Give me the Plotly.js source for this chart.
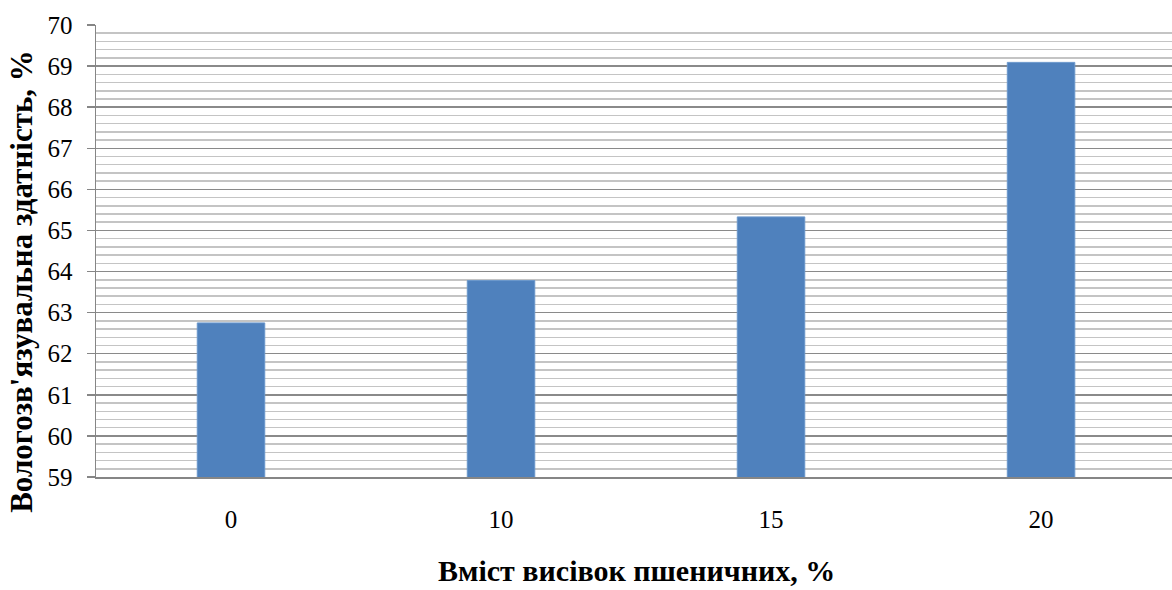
<!DOCTYPE html>
<html>
<head>
<meta charset="utf-8">
<script src="https://cdn.plot.ly/plotly-3.0.1.min.js"></script>
<style>
  html, body { margin: 0; padding: 0; background: #ffffff; }
  #chart { width: 1172px; height: 590px; }
</style>
</head>
<body>
<div id="chart"></div>
<script>
// Вміст висівок пшеничних (%) та вологозв'язувальна здатність (%)
const branContent = ['0', '10', '15', '20'];
const waterBinding = [62.75, 63.78, 65.33, 69.09];

const yTitle = "Вологозв'язувальна здатність, %";
const xTitle = 'Вміст висівок пшеничних, %';

const serif = 'Liberation Serif';

const trace = {
  type: 'bar',
  x: branContent,
  y: waterBinding,
  width: 0.25,
  marker: { color: '#4f81bd', line: { color: '#6a97cc', width: 1 } },
  hoverinfo: 'x+y'
};

const layout = {
  width: 1172,
  height: 590,
  margin: { l: 96, r: 0, t: 25, b: 113 },
  paper_bgcolor: '#ffffff',
  plot_bgcolor: '#ffffff',
  showlegend: false,
  font: { family: serif, color: '#000000' },
  xaxis: {
    type: 'category',
    range: [-0.5, 3.485],
    showgrid: false,
    showline: true,
    linecolor: '#868686',
    linewidth: 1.5,
    ticks: '',
    ticklabelstandoff: 19,
    tickfont: { family: serif, size: 25, color: '#000000' },
    zeroline: false,
    fixedrange: true
  },
  yaxis: {
    range: [59, 70],
    dtick: 1,
    tick0: 59,
    showgrid: true,
    gridcolor: '#8a8a8a',
    gridwidth: 1.5,
    minor: {
      dtick: 0.2,
      showgrid: true,
      gridcolor: '#c4c4c4',
      gridwidth: 1.5,
      ticks: ''
    },
    showline: true,
    linecolor: '#868686',
    linewidth: 1.5,
    ticks: 'outside',
    ticklen: 8,
    tickwidth: 1.5,
    tickcolor: '#868686',
    ticklabelstandoff: 9,
    tickfont: { family: serif, size: 25, color: '#000000' },
    zeroline: false,
    fixedrange: true
  },
  annotations: [
    {
      text: '<b>' + yTitle + '</b>',
      xref: 'paper', yref: 'paper',
      x: -0.0688, y: 0.434,
      xanchor: 'center', yanchor: 'middle',
      textangle: -90,
      showarrow: false,
      font: { family: serif, size: 31, color: '#000000' }
    },
    {
      text: '<b>' + xTitle + '</b>',
      xref: 'paper', yref: 'paper',
      x: 0.502, y: -0.2058,
      xanchor: 'center', yanchor: 'middle',
      showarrow: false,
      font: { family: serif, size: 30, color: '#000000' }
    }
  ]
};

Plotly.newPlot('chart', [trace], layout, { displayModeBar: false, staticPlot: true });
</script>
</body>
</html>
